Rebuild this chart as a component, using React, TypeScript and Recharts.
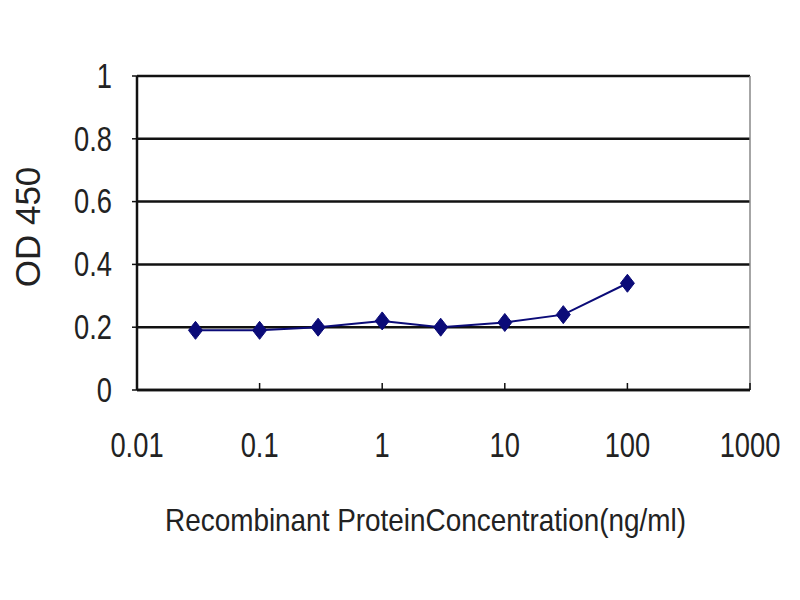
import React from 'react';
import { LineChart, Line, XAxis, YAxis, CartesianGrid, ReferenceLine } from 'recharts';

const concentrations = [0.03, 0.1, 0.3, 1, 3, 10, 30, 100];
const odValues = [0.19, 0.19, 0.2, 0.22, 0.2, 0.215, 0.24, 0.34];
const xTicks = [0.01, 0.1, 1, 10, 100, 1000];
const yTicks = [0, 0.2, 0.4, 0.6, 0.8, 1];

const data = concentrations.map((c, i) => ({ conc: c, od: odValues[i] }));

const FONT = "'Liberation Sans', Arial, sans-serif";
const NAVY = '#0b0b78';
// the original uses a narrow face, so squeeze the glyphs a bit
const SQUEEZE = 0.78;

const Diamond = (props: any) => {
  const { cx, cy } = props;
  if (cx == null || cy == null) return null;
  return (
    <polygon
      points={`${cx},${cy - 9} ${cx + 7},${cy} ${cx},${cy + 9} ${cx - 7},${cy}`}
      fill={NAVY}
      stroke={NAVY}
    />
  );
};

const XTick = (props: any) => {
  const { x, y, payload } = props;
  return (
    <text
      transform={`translate(${x},${y + 72}) scale(${SQUEEZE},1)`}
      textAnchor="middle"
      fontFamily={FONT}
      fontSize={35}
      fill="#222"
    >
      {payload.value}
    </text>
  );
};

const YTick = (props: any) => {
  const { x, y, payload } = props;
  return (
    <text
      transform={`translate(${x - 18},${y}) scale(${SQUEEZE},1)`}
      textAnchor="end"
      dominantBaseline="central"
      fontFamily={FONT}
      fontSize={35}
      fill="#222"
    >
      {payload.value}
    </text>
  );
};

const YLabel = (props: any) => {
  const { viewBox } = props;
  const cx = viewBox.x + 27;
  const cy = viewBox.y + viewBox.height / 2 - 6;
  return (
    <text
      x={cx}
      y={cy}
      transform={`rotate(-90 ${cx} ${cy})`}
      textAnchor="middle"
      dominantBaseline="central"
      fontFamily={FONT}
      fontSize={35}
      fill="#222"
    >
      OD 450
    </text>
  );
};

const XLabel = (props: any) => {
  const { viewBox } = props;
  const cx = viewBox.x + viewBox.width / 2 - 18;
  const cy = viewBox.y + 130;
  return (
    <text
      transform={`translate(${cx},${cy}) scale(0.9,1)`}
      textAnchor="middle"
      dominantBaseline="central"
      fontFamily={FONT}
      fontSize={31}
      fill="#222"
    >
      Recombinant ProteinConcentration(ng/ml)
    </text>
  );
};

export default function App() {
  return (
    <div style={{ position: 'absolute', left: 0, top: 0, width: 800, height: 600, background: '#fff' }}>
      <LineChart width={800} height={600} data={data} margin={{ top: 76, right: 50, left: 0, bottom: 60 }}>
        <CartesianGrid horizontal vertical={false} stroke="#111" strokeWidth={2.5} />
        <XAxis
          dataKey="conc"
          type="number"
          scale="log"
          domain={[0.01, 1000]}
          ticks={xTicks}
          allowDataOverflow
          height={150}
          axisLine={{ stroke: '#111', strokeWidth: 2.5 }}
          tickLine={{ stroke: '#111', strokeWidth: 1.5 }}
          tickSize={-7}
          tick={<XTick />}
          interval={0}
          label={<XLabel />}
        />
        <YAxis
          type="number"
          domain={[0, 1]}
          ticks={yTicks}
          width={137}
          axisLine={{ stroke: '#111', strokeWidth: 2.5 }}
          tickLine={{ stroke: '#111', strokeWidth: 1.5 }}
          tickSize={5}
          tick={<YTick />}
          interval={0}
          label={<YLabel />}
        />
        <ReferenceLine x={1000} stroke="#888" strokeWidth={1.5} />
        <Line
          dataKey="od"
          stroke={NAVY}
          strokeWidth={2}
          dot={<Diamond />}
          isAnimationActive={false}
        />
      </LineChart>
    </div>
  );
}
